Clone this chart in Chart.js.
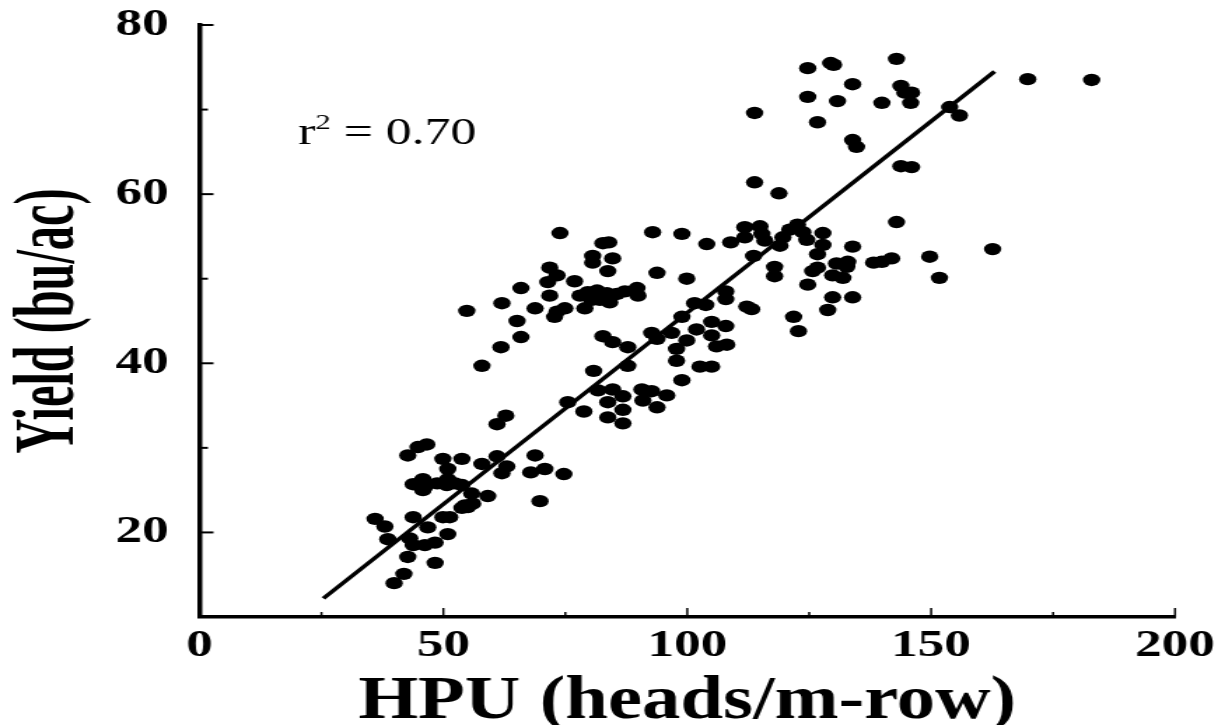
<!DOCTYPE html>
<html>
<head>
<meta charset="utf-8">
<script src="https://cdn.jsdelivr.net/npm/chart.js@4.4.1/dist/chart.umd.min.js"></script>
<style>
    html, body { margin: 0; padding: 0; background: #fff; overflow: hidden; }
    /* the original figure is stretched sideways, so draw narrow and widen it */
    #wrap { width: 870px; height: 725px; transform: scaleX(1.4); transform-origin: 0 0; }
</style>
</head>
<body>
<div id="wrap"><canvas id="yieldChart"></canvas></div>
<script>
// HPU (heads/m-row) and yield (bu/ac)
const hpu = [
    124.7, 129.4, 130.0, 142.9, 133.9, 143.8, 144.6, 146.0, 145.8, 124.7, 130.8, 139.9, 113.8, 126.7, 153.8, 155.8,
    133.9, 134.7, 143.8, 146.0, 113.8, 118.8, 169.8, 182.9, 142.9, 162.6, 149.7, 151.7, 138.2, 139.9, 141.9,
    111.8, 114.9, 115.3, 111.8, 104.0, 108.9, 115.9, 119.0, 121.0, 122.6, 123.7, 119.6, 124.5, 127.8, 127.8, 133.9,
    126.7, 113.6, 117.9, 117.9, 126.7, 125.7, 130.6, 132.9, 132.7, 129.8, 131.9, 124.7, 107.9, 107.9, 103.8, 112.2,
    113.2, 129.8, 133.9, 128.8, 121.8, 122.8, 105.0, 107.9, 105.0, 106.0, 108.1,
    73.9, 82.7, 83.9, 92.9, 98.9, 80.6, 80.6, 84.7, 83.7, 93.8, 99.9, 71.8, 73.3, 71.4, 76.9, 65.9, 78.0, 79.6, 81.5,
    82.1, 83.5, 84.1, 85.6, 87.2, 89.7, 89.9, 80.4, 71.8, 68.8, 74.9, 73.3, 72.8, 79.0, 62.0, 54.8, 65.1, 65.9, 61.8,
    57.9, 101.5,
    98.9, 92.7, 93.8, 96.8, 101.9, 99.9, 97.8, 82.7, 84.7, 87.8, 97.8, 102.6, 105.0, 80.8, 87.8, 98.9, 81.7, 84.7,
    86.8, 90.7, 92.7, 95.8, 83.7, 90.9, 75.5, 93.8, 78.8, 86.8, 83.7, 86.8, 62.8, 61.0,
    46.6, 44.8, 42.7, 49.9, 53.8, 57.9, 61.0, 68.8, 63.0, 62.0, 67.9, 70.8, 74.7, 50.9, 45.8, 43.8, 46.2, 48.7, 50.9,
    50.7, 52.4, 53.8, 55.8, 59.1, 69.8, 54.4, 56.0, 53.8, 55.0, 49.9, 51.3, 43.8, 36.0, 38.0, 46.8, 50.9, 38.6, 43.1,
    43.8, 46.2, 48.3, 42.7, 48.3, 41.9, 39.9, 45.8
];
const yieldBuAc = [
    74.9, 75.5, 75.3, 76.0, 73.0, 72.8, 72.0, 72.0, 70.8, 71.5, 71.0, 70.8, 69.6, 68.5, 70.3, 69.3,
    66.4, 65.6, 63.3, 63.2, 61.4, 60.1, 73.6, 73.5, 56.7, 53.5, 52.6, 50.1, 51.9, 52.0, 52.4,
    56.1, 56.2, 55.3, 54.9, 54.1, 54.3, 54.5, 53.9, 55.8, 56.4, 55.5, 54.9, 54.6, 55.4, 54.0, 53.8,
    52.9, 52.7, 51.4, 50.3, 51.3, 50.9, 51.8, 52.0, 51.4, 50.4, 50.1, 49.3, 48.5, 47.6, 46.9, 46.7,
    46.4, 47.8, 47.8, 46.3, 45.5, 43.8, 44.9, 44.4, 43.3, 42.0, 42.2,
    55.4, 54.2, 54.3, 55.5, 55.3, 52.7, 51.9, 52.4, 50.9, 50.7, 50.0, 51.3, 50.4, 49.6, 49.7, 48.9, 48.0, 48.4, 48.6,
    47.5, 48.3, 47.2, 48.2, 48.5, 48.9, 48.0, 47.5, 48.0, 46.5, 46.5, 46.1, 45.5, 46.5, 47.1, 46.2, 45.0, 43.1, 41.9,
    39.7, 47.1,
    45.5, 43.6, 42.9, 43.6, 44.0, 42.7, 41.7, 43.2, 42.5, 41.9, 40.3, 39.6, 39.6, 39.1, 39.7, 38.0, 36.8, 36.9,
    36.1, 36.9, 36.7, 36.2, 35.4, 35.6, 35.4, 34.8, 34.3, 34.5, 33.6, 32.9, 33.8, 32.8,
    30.4, 30.1, 29.1, 28.7, 28.7, 28.1, 29.0, 29.1, 27.8, 27.0, 27.1, 27.5, 26.9, 27.5, 26.3, 25.7, 25.4, 25.8, 26.3,
    25.6, 25.8, 25.6, 24.6, 24.3, 23.7, 23.2, 23.4, 22.9, 23.0, 21.8, 21.8, 21.8, 21.6, 20.7, 20.6, 19.8, 19.2, 19.3,
    18.5, 18.5, 18.8, 17.1, 16.4, 15.1, 14.0, 25.0
];

// regression line end points
const fitX = [25.4, 163.0];
const fitY = [12.2, 74.5];

// axes
const xTickLabels = [0, 50, 100, 150, 200];
const xMinorTicks = [25, 75, 125, 175];
const yTickLabels = [20, 40, 60, 80];
const yMinorTicks = [30, 50, 70];

const rSquared = '0.70';

const serif = "'Liberation Serif', 'DejaVu Serif', serif";

// inward ticks, axis titles and the r² note
const figureDecor = {
    id: 'figureDecor',
    afterDraw(chart) {
        const ctx = chart.ctx;
        const area = chart.chartArea;
        const xs = chart.scales.x;
        const ys = chart.scales.y;
        ctx.save();
        ctx.strokeStyle = '#000';
        ctx.fillStyle = '#000';

        ctx.lineWidth = 2;
        yTickLabels.forEach(function(v) {
            const py = ys.getPixelForValue(v);
            ctx.beginPath(); ctx.moveTo(area.left, py); ctx.lineTo(area.left + 10, py); ctx.stroke();
        });
        yMinorTicks.forEach(function(v) {
            const py = ys.getPixelForValue(v);
            ctx.beginPath(); ctx.moveTo(area.left, py); ctx.lineTo(area.left + 6, py); ctx.stroke();
        });
        ctx.lineWidth = 1.5;
        xTickLabels.slice(1).forEach(function(v) {
            const px = xs.getPixelForValue(v);
            ctx.beginPath(); ctx.moveTo(px, area.bottom); ctx.lineTo(px, area.bottom - 9); ctx.stroke();
        });
        xMinorTicks.forEach(function(v) {
            const px = xs.getPixelForValue(v);
            ctx.beginPath(); ctx.moveTo(px, area.bottom); ctx.lineTo(px, area.bottom - 5); ctx.stroke();
        });

        // y title, condensed along its length
        const yTitle = 'Yield (bu/ac)';
        ctx.font = 'bold 62px ' + serif;
        ctx.textAlign = 'center';
        ctx.textBaseline = 'alphabetic';
        let w = ctx.measureText(yTitle).width;
        ctx.save();
        ctx.translate(area.left - 91, (area.top + area.bottom) / 2);
        ctx.rotate(-Math.PI / 2);
        ctx.scale(265 / w, 1);
        ctx.fillText(yTitle, 0, 0);
        ctx.restore();

        // x title
        const xTitle = 'HPU (heads/m-row)';
        ctx.font = 'bold 62px ' + serif;
        w = ctx.measureText(xTitle).width;
        ctx.save();
        ctx.translate((area.left + area.right) / 2, area.bottom + 101);
        ctx.scale(470 / w, 1);
        ctx.fillText(xTitle, 0, 0);
        ctx.restore();

        // r² = 0.70
        let tx = xs.getPixelForValue(20.2);
        const ty = ys.getPixelForValue(65.9);
        ctx.textAlign = 'left';
        ctx.font = '37px ' + serif;
        ctx.fillText('r', tx, ty);
        tx += ctx.measureText('r').width;
        ctx.font = '22px ' + serif;
        ctx.fillText('2', tx, ty - 15);
        tx += ctx.measureText('2').width;
        ctx.font = '37px ' + serif;
        ctx.fillText(' = ' + rSquared, tx, ty);
        ctx.restore();
    }
};

const ctx = document.getElementById('yieldChart').getContext('2d');
new Chart(ctx, {
    type: 'scatter',
    data: {
        datasets: [
            {
                label: 'Yield',
                data: hpu.map((x, i) => ({ x: x, y: yieldBuAc[i] })),
                backgroundColor: '#000',
                borderWidth: 0,
                pointRadius: 6.2,
                pointHoverRadius: 6.2
            },
            {
                type: 'line',
                label: 'Fit',
                data: fitX.map((x, i) => ({ x: x, y: fitY[i] })),
                borderColor: '#000',
                borderWidth: 3.5,
                pointRadius: 0,
                fill: false
            }
        ]
    },
    options: {
        responsive: true,
        maintainAspectRatio: false,
        animation: false,
        layout: {
            padding: { top: 25, right: 30.7, left: 0, bottom: 0 }
        },
        plugins: {
            legend: { display: false },
            tooltip: { enabled: false }
        },
        scales: {
            x: {
                type: 'linear',
                min: 0,
                max: 200,
                grid: { display: false },
                border: { display: true, color: '#000', width: 3.5 },
                afterBuildTicks: function(scale) {
                    scale.ticks = xTickLabels.map(v => ({ value: v }));
                },
                afterFit: function(scale) {
                    scale.height = 108;
                    scale.paddingLeft = 0;
                    scale.paddingRight = 0;
                },
                ticks: {
                    color: '#000',
                    padding: -2,
                    maxRotation: 0,
                    font: { family: serif, size: 38, weight: 'bold' }
                }
            },
            y: {
                type: 'linear',
                min: 10,
                max: 80,
                grid: { display: false },
                border: { display: true, color: '#000', width: 3.5 },
                afterBuildTicks: function(scale) {
                    scale.ticks = yTickLabels.map(v => ({ value: v }));
                },
                afterFit: function(scale) {
                    scale.width = 142.5;
                    scale.paddingTop = 0;
                    scale.paddingBottom = 0;
                },
                ticks: {
                    color: '#000',
                    padding: 14,
                    font: { family: serif, size: 38, weight: 'bold' }
                }
            }
        }
    },
    plugins: [figureDecor]
});
</script>
</body>
</html>
